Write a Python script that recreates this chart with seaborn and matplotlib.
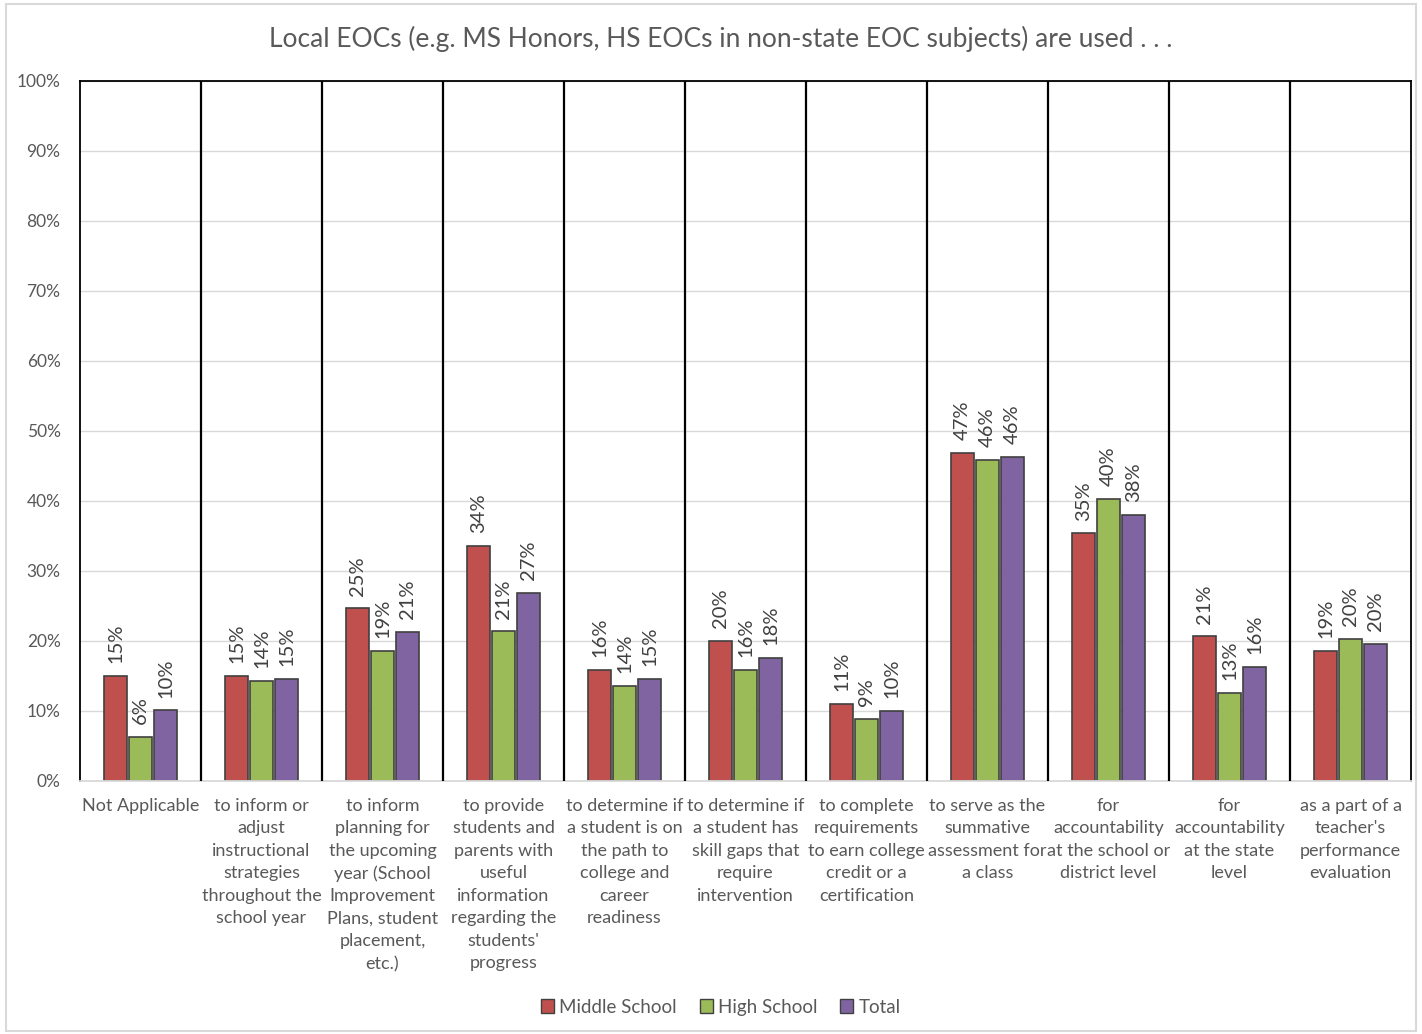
import matplotlib
matplotlib.use("Agg")
import matplotlib.pyplot as plt
import seaborn as sns
import pandas as pd
from matplotlib.patches import Rectangle, Patch

categories = [
    "Not Applicable",
    "to inform or\nadjust\ninstructional\nstrategies\nthroughout the\nschool year",
    "to inform\nplanning for\nthe upcoming\nyear (School\nImprovement\nPlans, student\nplacement,\netc.)",
    "to provide\nstudents and\nparents with\nuseful\ninformation\nregarding the\nstudents'\nprogress",
    "to determine if\na student is on\nthe path to\ncollege and\ncareer\nreadiness",
    "to determine if\na student has\nskill gaps that\nrequire\nintervention",
    "to complete\nrequirements\nto earn college\ncredit or a\ncertification",
    "to serve as the\nsummative\nassessment for\na class",
    "for\naccountability\nat the school or\ndistrict level",
    "for\naccountability\nat the state\nlevel",
    "as a part of a\nteacher's\nperformance\nevaluation",
]
series_names = ["Middle School", "High School", "Total"]
middle_school = [15.0, 15.0, 24.7, 33.6, 15.9, 20.0, 11.0, 46.9, 35.4, 20.7, 18.6]
high_school = [6.3, 14.3, 18.6, 21.4, 13.6, 15.9, 8.9, 45.9, 40.3, 12.6, 20.3]
total = [10.1, 14.6, 21.3, 26.9, 14.6, 17.6, 10.0, 46.3, 38.0, 16.3, 19.6]
y_ticks = [0, 10, 20, 30, 40, 50, 60, 70, 80, 90, 100]

colors = ["#C0504D", "#9BBB59", "#8064A2"]
text_gray = "#595959"

sns.set_theme(style="white")
plt.rcParams["font.family"] = ["Lato", "DejaVu Sans"]

rows = []
for name, vals in zip(series_names, [middle_school, high_school, total]):
    for cat, v in zip(categories, vals):
        rows.append({"category": cat, "series": name, "value": v})
df = pd.DataFrame(rows)

fig = plt.figure(figsize=(14.22, 10.34), dpi=100)
ax = fig.add_axes([0.0563, 0.2447, 0.9360, 0.6770])

sns.barplot(data=df, x="category", y="value", hue="series", order=categories,
            hue_order=series_names, palette=colors, saturation=1, width=0.62, gap=0.1,
            edgecolor="#404040", linewidth=1.2, ax=ax, legend=False)

ax.set_ylim(0, 100)
ax.set_xlim(-0.5, len(categories) - 0.5)
ax.set_yticks(y_ticks)
ax.set_yticklabels([f"{t}%" for t in y_ticks], color=text_gray, fontsize=12.5)
ax.yaxis.grid(True, color="#D9D9D9", linewidth=1)
ax.set_axisbelow(True)
ax.set_xlabel("")
ax.set_ylabel("")
ax.tick_params(axis="x", length=0, pad=12)
ax.tick_params(axis="y", length=0, pad=14)
ax.set_xticks(range(len(categories)))
ax.set_xticklabels(categories, fontsize=13, color=text_gray, va="top",
                   ha="center", linespacing=1.5)

for side in ["top", "left", "right"]:
    ax.spines[side].set_color("black")
    ax.spines[side].set_linewidth(1.3)
ax.spines["bottom"].set_color("#D9D9D9")
ax.spines["bottom"].set_linewidth(1.3)

# separators between categories
for k in range(1, len(categories)):
    ax.axvline(k - 0.5, color="black", linewidth=1.6, zorder=3)

# rotated value labels
for container in ax.containers:
    ax.bar_label(container, labels=[f"{round(b.get_height()):.0f}%" for b in container],
                 rotation=90, padding=9, fontsize=14.5, color="#404040")

fig.suptitle("Local EOCs (e.g. MS Honors, HS EOCs in non-state EOC subjects) are used . . .",
             x=0.507, y=0.962, fontsize=19, color=text_gray, va="center")

handles = [Patch(facecolor=c, edgecolor="#404040", linewidth=1) for c in colors]
fig.legend(handles, series_names, loc="center", bbox_to_anchor=(0.507, 0.026),
           ncol=3, frameon=False, fontsize=13.5, handlelength=0.7, handleheight=0.7,
           handletextpad=0.3, columnspacing=1.2, labelcolor=text_gray)

fig.patches.append(Rectangle((0.004, 0.003), 0.992, 0.993, transform=fig.transFigure,
                             fill=False, edgecolor="#D9D9D9", linewidth=1.5))

fig.savefig("out.png", dpi=100, facecolor="white")
